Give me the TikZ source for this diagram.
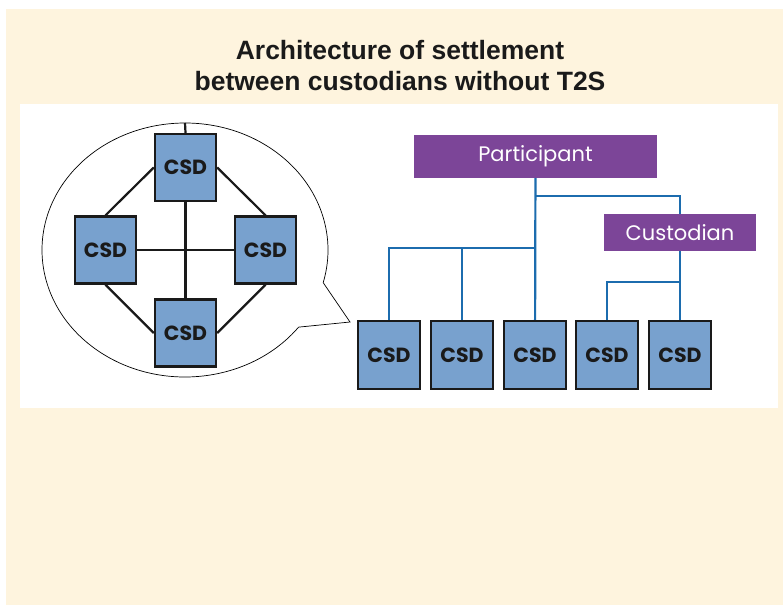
\documentclass[tikz,border=0pt]{standalone}
\usepackage{fontspec}
\setmainfont{Liberation Sans}
\newfontfamily\geofont{Poppins}
\usetikzlibrary{positioning, calc}
\definecolor{cream}{HTML}{FEF4DE}
\definecolor{csdblue}{HTML}{78A1CE}
\definecolor{linkblue}{HTML}{1C6CAE}
\definecolor{rolepurple}{HTML}{7C4598}
\definecolor{ink}{HTML}{1A1A1A}

\begin{document}
\begin{tikzpicture}[x=1pt, y=-1pt,
        every node/.style={inner sep=0pt},
        csd/.style={rectangle, draw=ink, line width=2.4pt, fill=csdblue,
          minimum width=61pt, minimum height=67pt, text=ink,
          font=\geofont\bfseries\fontsize{20.5}{20.5}\selectfont},
        role/.style={rectangle, fill=rolepurple, text=white,
          font=\geofont\fontsize{21}{21}\selectfont},
        mesh/.style={line width=2.2pt, color=ink},
        tree/.style={line width=2.2pt, color=linkblue}]

      \useasboundingbox (0,0) rectangle (783,605);
      \fill[cream] (6,9) rectangle (783,605);
      \fill[white] (20,104) rectangle (778,408);

      \node[align=center, text=ink,
        font=\bfseries\fontsize{26.5}{31}\selectfont] (title) at (400,66)
        {Architecture of settlement\\between custodians without T2S};

      % speech bubble
      \coordinate (ctr) at (185,250);
      \coordinate (tip) at (350,322);
      \draw[line width=0.7pt, fill=white] (tip)
        -- ($(ctr)+(37.4:143 and 127)$)
        arc[start angle=37.4, end angle=374.9, x radius=143, y radius=127]
        -- cycle;

      \node[csd] (l1) at (185.5,167.5) {CSD};
      \node[csd] (l2) at (105.5,250) {CSD};
      \node[csd] (l3) at (265.5,250) {CSD};
      \node[csd] (l4) at (185.5,333) {CSD};

      \draw[mesh] ($(ctr)+(0,-127)$) -- (l1.north);
      \draw[mesh] (l1) -- (l4);
      \draw[mesh] (l2) -- (l3);
      \draw[mesh] (l1.west) -- (l2.north);
      \draw[mesh] (l1.east) -- (l3.north);
      \draw[mesh] (l2.south) -- (l4.west);
      \draw[mesh] (l3.south) -- (l4.east);

      % hierarchy
      \node[role, minimum width=243pt, minimum height=43pt]
        (part) at (535.5,156.5) {Participant};
      \node[role, minimum width=152pt, minimum height=37pt]
        (cust) at (680,232.5) {Custodian};

      \foreach \i/\x in {1/389, 2/462, 3/535, 4/607, 5/680}
        \node[csd, minimum width=62pt, minimum height=68pt]
          (r\i) at (\x,355) {CSD};

      \coordinate (j1) at (535,196);
      \coordinate (j2) at (535,248);
      \coordinate (j3) at (680,282);

      \draw[tree] (part) -- (r3);
      \draw[tree] (j1) -| (cust.north);
      \draw[tree] (r1.north) |- (j2);
      \draw[tree] (r2.north) -- (r2.north |- j2);
      \draw[tree] (cust) -- (r5);
      \draw[tree] (r4.north) |- (j3);
    \end{tikzpicture}
\end{document}
